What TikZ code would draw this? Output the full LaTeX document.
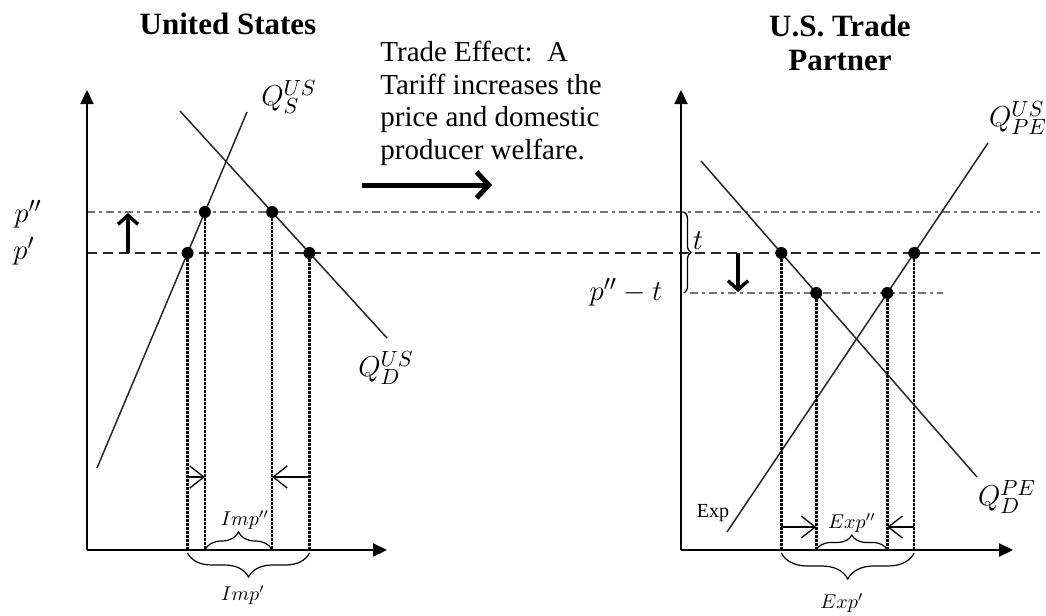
\documentclass[tikz,border=0pt]{standalone}
\usepackage{fontspec}
\setmainfont{Liberation Serif}
\usetikzlibrary{arrows.meta, intersections, decorations.pathreplacing, positioning}

\begin{document}
\begin{tikzpicture}[
    x=0.5pt, y=-0.5pt,
    axisline/.style={line width=1.1pt, -{Triangle[length=7pt, width=6.5pt]}},
    sline/.style={line width=0.75pt, black!85},
    pline/.style={line width=0.8pt, black!55, dash pattern=on 4pt off 2pt on 1.5pt off 2pt},
    qline/.style={line width=0.8pt, black!85, dash pattern=on 5pt off 3pt},
    drop/.style={line width=1.3pt, dash pattern=on 1.1pt off 0.9pt},
    dot/.style={circle, fill, inner sep=0pt, minimum size=6pt},
    move/.style={line width=1.7pt, -{Straight Barb[length=4.5pt, width=10pt]}},
    nudge/.style={line width=0.65pt, -{Straight Barb[length=7pt, width=11pt]}},
    curly/.style={decorate, decoration={brace, amplitude=#1}, line width=0.6pt},
    heading/.style={font=\fontsize{15.5}{17}\selectfont\bfseries, align=center},
    lbl/.style={font=\fontsize{15}{18}\selectfont, inner sep=0pt},
    tag/.style={font=\fontsize{10}{12}\selectfont, inner sep=0pt}
  ]
  \useasboundingbox (0,0) rectangle (1046,616);

  % titles and note
  \node[heading] (us) at (228,24) {United States};
  \node[heading] (tp) at (840,43) {U.S. Trade\\Partner};
  \node[font=\fontsize{14.5}{16.2}\selectfont, align=left, anchor=north west, inner sep=0pt]
    (fx) at (380,41) {Trade Effect:\ \ A\\Tariff increases the\\price and domestic\\producer welfare.};
  \coordinate (ta) at (362,185);
  \coordinate (tb) at (492,185);
  \draw[line width=2.5pt, -{Straight Barb[length=6pt, width=13pt]}] (ta) -- (tb);

  % price levels
  \draw[pline, name path=hi] (87,212) -- (1040,212);
  \draw[qline, name path=lo] (87,253) -- (1040,253);
  \draw[pline, name path=mid] (690,293) -- (943,293);

  % axes
  \coordinate (ol) at (87,550);
  \coordinate (or) at (681,550);
  \coordinate (lb) at (87,553);
  \coordinate (rb) at (681,553);
  \coordinate (ya) at (0,477);
  \coordinate (yb) at (0,527);
  \draw[axisline] (ol) -- (87,90);
  \draw[axisline] (ol) -- (387,550);
  \draw[axisline] (or) -- (681,90);
  \draw[axisline] (or) -- (1013,550);

  % supply and demand
  \draw[sline, name path=sus] (97,468) -- (247,112);
  \draw[sline, name path=dus] (180,111) -- (387,338);
  \draw[sline, name path=dpe] (701,161) -- (977,477);
  \draw[sline, name path=spe] (727,532) -- (988,143);

  \path[name intersections={of=sus and lo, by=x1}];
  \path[name intersections={of=sus and hi, by=x2}];
  \path[name intersections={of=dus and lo, by=x3}];
  \path[name intersections={of=dus and hi, by=x4}];
  \path[name intersections={of=dpe and lo, by=x5}];
  \path[name intersections={of=dpe and mid, by=x6}];
  \path[name intersections={of=spe and lo, by=x7}];
  \path[name intersections={of=spe and mid, by=x8}];

  \node[dot] (s1) at (x1) {};
  \node[dot] (s2) at (x2) {};
  \node[dot] (d1) at (x3) {};
  \node[dot] (d2) at (x4) {};
  \node[dot] (e1) at (x5) {};
  \node[dot] (e2) at (x6) {};
  \node[dot] (f1) at (x7) {};
  \node[dot] (f2) at (x8) {};

  \foreach \n in {s1,s2,d1,d2} \draw[drop] (\n) -- (\n |- ol);
  \foreach \n in {e1,e2,f1,f2} \draw[drop] (\n) -- (\n |- or);

  % quantity changes
  \draw[nudge] (s1 |- ya) -- (s2 |- ya);
  \draw[nudge] (d1 |- ya) -- (d2 |- ya);
  \draw[nudge] (e1 |- yb) -- (e2 |- yb);
  \draw[nudge] (f1 |- yb) -- (f2 |- yb);

  \draw[curly=9pt] (s2 |- ol) -- (d2 |- ol);
  \draw[curly=12pt] (d1 |- lb) -- (s1 |- lb);
  \draw[curly=7.5pt] (e2 |- or) -- (f2 |- or);
  \draw[curly=13pt] (f1 |- rb) -- (e1 |- rb);
  \draw[curly=3.5pt] (684,212) -- (684,293);

  % price changes
  \draw[move] (128,253) -- (128,213);
  \draw[move] (738,253) -- (738,292);

  % labels
  \node[lbl] (pp2) at (28,214) {$p''$};
  \node[lbl] (pp1) at (24,251) {$p'$};
  \node[lbl] (qsus) at (289,97) {$Q_S^{US}$};
  \node[lbl] (qdus) at (386,368) {$Q_D^{US}$};
  \node[lbl] (qspe) at (1018,118) {$Q_{PE}^{US}$};
  \node[lbl] (qdpe) at (1007,497) {$Q_D^{PE}$};
  \node[lbl] (ppt) at (626,292) {$p''-t$};
  \node[lbl] (tt) at (698,241) {$t$};
  \node[tag] (imp2) at (245,520) {$Imp''$};
  \node[tag] (imp1) at (243,595) {$Imp'$};
  \node[tag] (exp2) at (852,523) {$Exp''$};
  \node[tag] (exp1) at (842,603) {$Exp'$};
  \node[tag, font=\fontsize{10}{12}\selectfont] (ex) at (713,513) {Exp};
\end{tikzpicture}
\end{document}
